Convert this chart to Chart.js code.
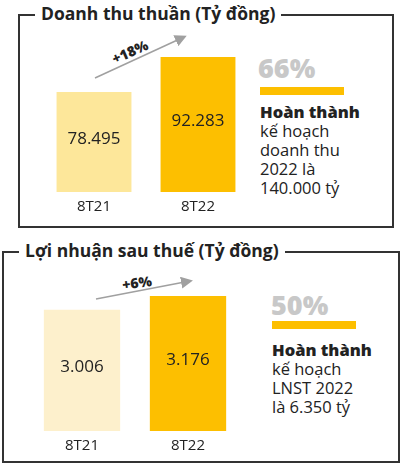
<!DOCTYPE html>
<html><head><meta charset="utf-8">
<script src="https://cdn.jsdelivr.net/npm/chart.js@4"></script>
<style>
body{margin:0;width:401px;height:465px;background:#fff;position:relative;overflow:hidden;font-family:"Open Sans",sans-serif;color:#222}
.box{position:absolute;border:2px solid #333;box-sizing:border-box}
.title{position:absolute;background:#fff;font-weight:700;font-size:17.5px;padding:0 6px;line-height:20px;white-space:nowrap}
.pct{position:absolute;color:#c8c8c8;font-weight:800;font-size:27px;line-height:30px}
.ybar{position:absolute;background:#fdbf00;height:8px;width:84px}
.txt{position:absolute;font-size:16.5px;line-height:19px;color:#222;white-space:nowrap}
.txt b{font-weight:800}
.cw{position:absolute}
.arrowlbl{position:absolute;font-weight:800;font-size:14px;white-space:nowrap}
</style></head><body>
<div class="box" style="left:18px;top:14px;width:376px;height:214px"></div>
<div class="title" style="left:35px;top:3px">Doanh thu thuần (Tỷ đồng)</div>
<div class="box" style="left:2px;top:251px;width:398px;height:212px"></div>
<div class="title" style="left:19px;top:240px">Lợi nhuận sau thuế (Tỷ đồng)</div>

<svg style="position:absolute;left:0;top:0" width="401" height="465">
<defs><marker id="ah" markerWidth="8" markerHeight="8" refX="6" refY="4" orient="auto"><path d="M0,0 L8,4 L0,8 z" fill="#a0a0a0"/></marker></defs>
<line x1="95" y1="78" x2="184" y2="37" stroke="#a0a0a0" stroke-width="1.5" marker-end="url(#ah)"/>
<line x1="96" y1="299" x2="190" y2="281" stroke="#a0a0a0" stroke-width="1.5" marker-end="url(#ah)"/>
</svg>
<div class="arrowlbl" style="left:111px;top:42px;transform:rotate(-24deg)">+18%</div>
<div class="arrowlbl" style="left:122px;top:273px;transform:rotate(-8deg)">+6%</div>

<div class="pct" style="left:258px;top:53px">66%</div>
<div class="ybar" style="left:260px;top:87px"></div>
<div class="txt" style="left:260px;top:102px"><b>Hoàn thành</b><br>kế hoạch<br>doanh thu<br>2022 là<br>140.000 tỷ</div>

<div class="pct" style="left:271px;top:290px">50%</div>
<div class="ybar" style="left:272px;top:321px"></div>
<div class="txt" style="left:272px;top:340px"><b>Hoàn thành</b><br>kế hoạch<br>LNST 2022<br>là 6.350 tỷ</div>

<div class="cw" style="left:41.5px;top:40px;width:208px;height:182px"><canvas id="c1"></canvas></div>
<div class="cw" style="left:29px;top:286px;width:212px;height:175px"><canvas id="c2"></canvas></div>
<script>
const categories=["8T21","8T22"];
const revenue=[78495,92283];
const revenueLabels=["78.495","92.283"];
const profit=[3006,3176];
const profitLabels=["3.006","3.176"];
const labelPlugin={id:'lbl',afterDatasetsDraw(ch,a,opts){
 const c=ch.ctx;const meta=ch.getDatasetMeta(0);const bot=ch.chartArea.bottom;
 c.save();c.fillStyle='#222';c.textAlign='center';c.textBaseline='middle';
 meta.data.forEach((b,i)=>{
  c.font='17px "Open Sans"';
  c.fillText(opts.vals[i],b.x,(b.y+bot)/2-3);
  c.font='15px "Open Sans"';
  c.fillText(categories[i],b.x,bot+15);
 });c.restore();}};
function mk(id,data,vals,colors,min,max){
 new Chart(document.getElementById(id),{type:'bar',
  data:{labels:categories,datasets:[{data:data,backgroundColor:colors,barPercentage:0.72,categoryPercentage:1}]},
  options:{responsive:true,maintainAspectRatio:false,animation:false,layout:{padding:{bottom:30}},
   plugins:{legend:{display:false},tooltip:{enabled:false},lbl:{vals:vals}},
   scales:{x:{display:false},y:{display:false,min:min,max:max}}},
  plugins:[labelPlugin]});
}
mk('c1',revenue,revenueLabels,['#fde79a','#fdbf00'],39000,99000);
mk('c2',profit,profitLabels,['#fdf0cc','#fdbf00'],1500,3300);
</script>
</body></html>
